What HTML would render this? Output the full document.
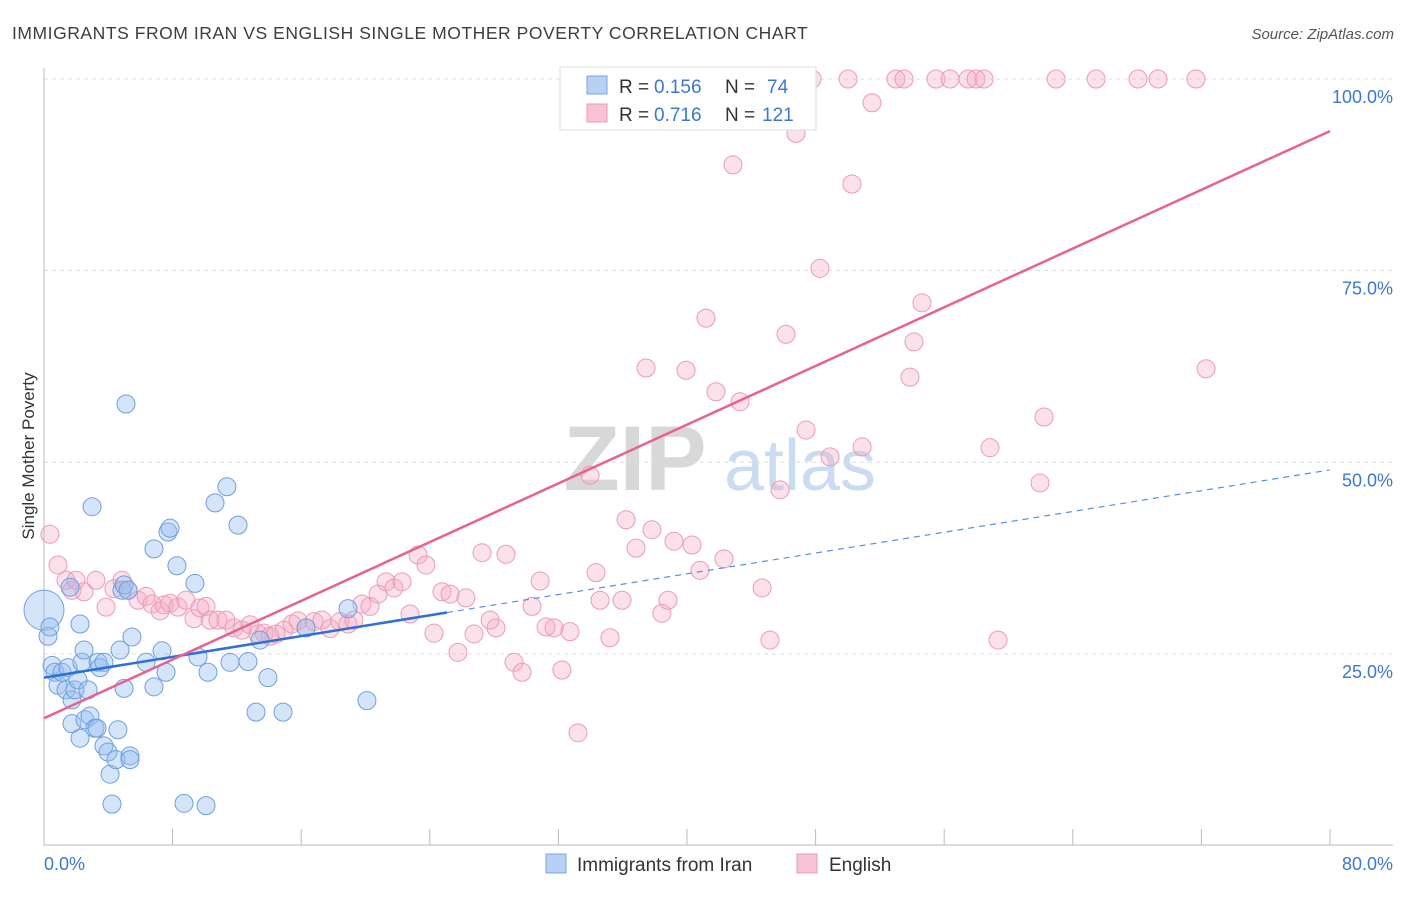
<!DOCTYPE html>
<html><head><meta charset="utf-8"><style>
body{margin:0;background:#fff;font-family:"Liberation Sans",sans-serif}
svg text{font-family:"Liberation Sans",sans-serif}
</style></head><body>
<svg id="chart" width="1406" height="892" viewBox="0 0 1406 892" xmlns="http://www.w3.org/2000/svg">
<text x="12" y="39" font-size="17.5" fill="#3d3d3d" letter-spacing="0.55">IMMIGRANTS FROM IRAN VS ENGLISH SINGLE MOTHER POVERTY CORRELATION CHART</text>
<text x="1394" y="39" font-size="15" fill="#555" text-anchor="end" font-style="italic">Source: ZipAtlas.com</text>
<g>
<text x="635" y="490" font-size="92" fill="#d8d8d8" text-anchor="middle" font-family="Liberation Serif" font-weight="bold">ZIP</text>
<text x="800" y="490" font-size="72" fill="#c9dcf2" text-anchor="middle">atlas</text>
</g>
<g id="grid"></g>
<g id="axes"></g>
<g id="marks"></g>
<text x="34" y="456" font-size="17" fill="#333" text-anchor="middle" transform="rotate(-90 34 456)">Single Mother Poverty</text>
<g>
<rect x="560" y="67" width="256" height="63" fill="#fff" stroke="#ddd"/>
<rect x="587" y="76" width="20" height="18" fill="#b7d0f3" stroke="#7aa6e0"/>
<rect x="587" y="104" width="20" height="18" fill="#f8c4d3" stroke="#eb9ab4"/>
<text x="619" y="93" font-size="19" fill="#333">R =</text>
<text x="654" y="93" font-size="19" fill="#3c78d0">0.156</text>
<text x="725" y="93" font-size="19" fill="#333">N =</text>
<text x="767" y="93" font-size="19" fill="#3c78d0">74</text>
<text x="619" y="121" font-size="19" fill="#333">R =</text>
<text x="654" y="121" font-size="19" fill="#3c78d0">0.716</text>
<text x="725" y="121" font-size="19" fill="#333">N =</text>
<text x="762" y="121" font-size="19" fill="#3c78d0">121</text>
</g>
<g>
<rect x="546" y="854" width="20" height="19" fill="#b7d0f3" stroke="#7aa6e0"/>
<text x="577" y="871" font-size="19" fill="#333">Immigrants from Iran</text>
<rect x="797" y="854" width="20" height="19" fill="#f8c4d3" stroke="#eb9ab4"/>
<text x="829" y="871" font-size="19" fill="#333">English</text>
</g>
</svg>
<script>
const blueX=[0,0.25,0.37,0.5,0.68,0.87,1.12,1.37,1.62,1.49,1.74,1.74,1.93,2.12,2.24,2.24,2.36,2.49,2.55,2.74,2.86,2.99,3.17,3.3,3.36,3.48,3.73,3.73,3.98,4.11,4.23,4.48,4.6,4.73,4.85,4.98,4.98,5.1,5.23,5.35,5.35,5.47,6.35,6.84,6.84,7.34,7.59,7.71,7.84,8.27,8.71,9.39,9.58,10.08,10.2,10.64,11.38,11.57,12.07,12.69,13.19,13.44,13.93,14.87,16.3,18.91,20.09];
const blueY=[30.7,27.3,28.5,23.5,22.6,20.9,22.6,20.3,33.7,23.2,19.0,15.9,20.3,21.6,28.9,14.0,23.9,25.5,16.4,20.3,16.9,44.2,15.3,15.3,23.9,23.2,23.9,13.0,12.2,9.3,5.4,11.2,15.1,25.5,33.3,34.0,20.5,57.6,33.3,11.7,11.2,27.2,23.9,38.7,20.7,25.4,22.6,40.9,41.4,36.5,5.5,34.2,24.6,5.2,22.6,44.7,46.8,23.9,41.8,24.0,17.4,26.8,21.9,17.4,28.4,30.9,18.9];
const pinkX=[0.37,0.87,1.37,1.74,1.99,2.49,3.23,3.86,4.35,4.85,5.23,5.85,6.35,6.72,7.22,7.47,7.84,8.34,8.83,9.33,9.7,10.08,10.33,10.82,11.32,11.82,12.32,12.82,13.31,13.69,14.06,14.43,14.93,15.43,15.8,16.3,16.8,17.29,17.79,18.41,18.91,19.28,19.78,20.28,20.78,21.28,21.77,22.27,22.77,23.27,23.76,24.26,24.76,25.26,25.75,26.25,26.75,27.25,27.75,28.12,28.74,29.24,29.74,30.36,30.86,31.23,31.73,32.22,32.72,33.22,33.97,34.34,34.59,35.21,35.96,36.21,36.83,37.45,37.82,38.44,38.82,39.19,39.94,40.31,40.81,41.18,41.8,42.3,42.86,43.3,44.17,44.67,45.16,45.79,46.16,46.78,47.41,47.78,48.27,48.9,50.02,50.26,50.89,51.51,53.0,53.5,53.87,54.12,54.62,55.49,56.36,57.48,57.98,58.48,58.85,59.35,61.96,62.21,62.96,65.45,68.06,69.3,71.66,72.29];
const pinkY=[40.6,36.6,34.6,33.3,34.6,33.1,34.6,31.1,33.5,34.6,33.3,32.0,32.5,31.5,30.6,31.4,31.6,31.1,32.0,29.6,31.0,31.2,29.4,29.4,29.4,28.4,28.1,28.8,27.6,27.7,27.3,27.6,28.1,28.9,29.3,28.4,29.2,29.4,28.3,29.2,28.9,29.4,31.5,31.2,32.8,34.4,33.6,34.4,30.2,37.9,36.6,27.7,33.1,32.8,25.2,32.3,27.6,38.2,29.4,28.4,38.0,23.9,22.6,31.2,34.5,28.5,28.4,22.9,27.9,14.7,48.3,35.6,32.0,27.1,32.0,42.5,38.8,62.3,41.2,30.3,32.0,39.7,62.0,39.2,35.9,68.8,59.2,37.4,88.8,57.9,100,33.6,26.8,46.4,66.7,92.9,54.2,100,75.3,50.7,100,86.3,52.0,96.9,100,100,61.1,65.7,70.8,100,100,100,100,100,51.9,26.8,47.3,55.9,100,100,100,100,100,62.2];
const yTicks=[25,50,75,100];
const yTickLabels=["25.0%","50.0%","75.0%","100.0%"];
const xTickVals=[0,8,16,24,32,40,48,56,64,72,80];
const blueTrend=[21.9,49.0,25.07];
const pinkTrend=[16.6,93.2];
const NS="http://www.w3.org/2000/svg";
function sx(v){return 44+v*16.075;}
function sy(v){return 845.5-v*7.665;}
function mk(tag,attrs,parent){const e=document.createElementNS(NS,tag);for(const k in attrs)e.setAttribute(k,attrs[k]);parent.appendChild(e);return e;}
const grid=document.getElementById('grid'),axes=document.getElementById('axes'),marks=document.getElementById('marks');
yTicks.forEach((t,i)=>{
 const l=mk('line',{x1:44,x2:1393,y1:sy(t),y2:sy(t),stroke:'#ddd','stroke-dasharray':'4,4'},grid);
 
 
 const tx=mk('text',{x:1393,y:sy(t)+24,'font-size':18,fill:'#3c78d0','text-anchor':'end'},axes);
 tx.textContent=yTickLabels[i];
 
 
});
const ya=mk('line',{x1:44,x2:44,y1:68,y2:845,stroke:'#bbb'},axes);


const xa=mk('line',{x1:44,x2:1393,y1:845,y2:845,stroke:'#bbb'},axes);


xTickVals.forEach(v=>{
 const t=mk('line',{x1:sx(v),x2:sx(v),y1:829,y2:845,stroke:'#bbb'},axes);
 
 
});
const x0=mk('text',{x:44,y:870,'font-size':18,fill:'#3c78d0'},axes);x0.textContent="0.0%";


const x1=mk('text',{x:1393,y:870,'font-size':18,fill:'#3c78d0','text-anchor':'end'},axes);x1.textContent="80.0%";


pinkX.forEach((x,i)=>{
 const c=mk('circle',{cx:sx(x),cy:sy(pinkY[i]),r:9,fill:'rgba(244,170,194,0.35)',stroke:'#ee9ab6','stroke-width':1},marks);
 
 
});
blueX.forEach((x,i)=>{
 const c=mk('circle',{cx:sx(x),cy:sy(blueY[i]),r:i===0?20:9,fill:'rgba(150,190,240,0.4)',stroke:'#6f9fdf','stroke-width':1},marks);
 
 
});
const bs=(blueTrend[1]-blueTrend[0])/80;
const bl=mk('line',{x1:sx(0),y1:sy(blueTrend[0]),x2:sx(blueTrend[2]),y2:sy(blueTrend[0]+bs*blueTrend[2]),stroke:'#2f6fd6','stroke-width':2.5},marks);


const bd=mk('line',{x1:sx(blueTrend[2]),y1:sy(blueTrend[0]+bs*blueTrend[2]),x2:sx(80),y2:sy(blueTrend[1]),stroke:'#5a8fdc','stroke-width':1.2,'stroke-dasharray':'6,5'},marks);


const pl=mk('line',{x1:sx(0),y1:sy(pinkTrend[0]),x2:sx(80),y2:sy(pinkTrend[1]),stroke:'#e8628f','stroke-width':2.5},marks);


</script>
</body></html>
